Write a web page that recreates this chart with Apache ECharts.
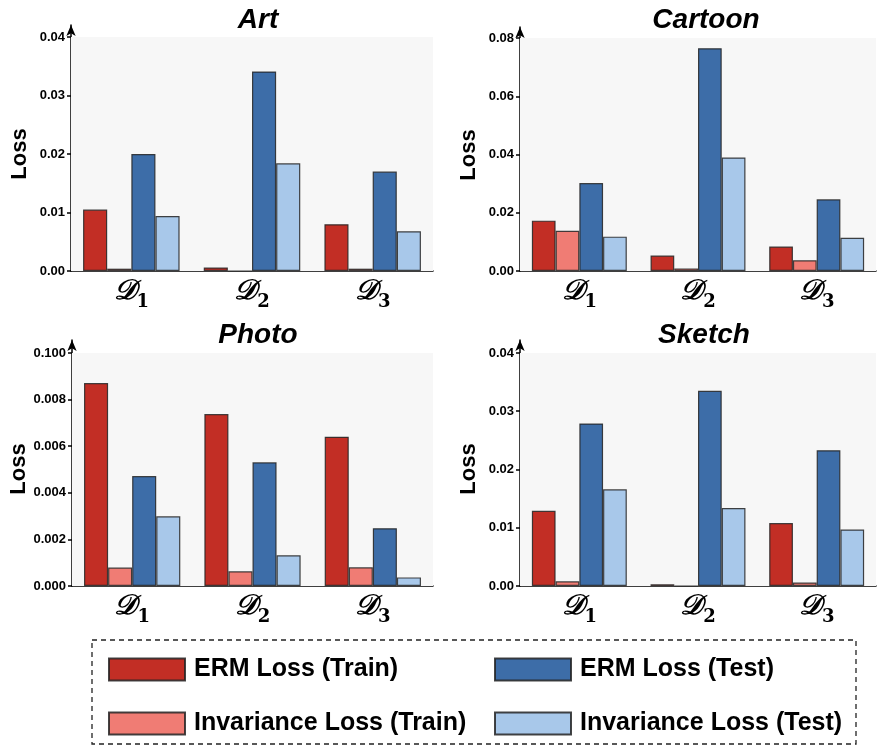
<!DOCTYPE html>
<html>
<head>
<meta charset="utf-8">
<title>Loss by domain</title>
<script src="https://cdn.jsdelivr.net/npm/echarts@6/dist/echarts.min.js"></script>
<style>
  html, body { margin: 0; padding: 0; background: #fff; }
  #chart { width: 877px; height: 746px; }
</style>
</head>
<body>
<div id="chart"></div>
<script>
// x categories (subscripts of D)
const domains = ["1", "2", "3"];
const panelTitles = ["Art", "Cartoon", "Photo", "Sketch"];
const seriesNames = ["ERM Loss (Train)", "Invariance Loss (Train)", "ERM Loss (Test)", "Invariance Loss (Test)"];

// Art
const artErmTrain = [0.0105, 0.0006, 0.0080];
const artInvTrain = [0.0004, 0, 0.0004];
const artErmTest = [0.0200, 0.0341, 0.0170];
const artInvTest = [0.0094, 0.0184, 0.0068];
// Cartoon
const cartoonErmTrain = [0.0173, 0.0053, 0.0084];
const cartoonInvTrain = [0.0138, 0.0009, 0.0037];
const cartoonErmTest = [0.0302, 0.0765, 0.0246];
const cartoonInvTest = [0.0118, 0.0390, 0.0114];
// Photo
const photoErmTrain = [0.00871, 0.00738, 0.00641];
const photoInvTrain = [0.00079, 0.00063, 0.00080];
const photoErmTest = [0.00472, 0.00531, 0.00248];
const photoInvTest = [0.00299, 0.00132, 0.00037];
// Sketch
const sketchErmTrain = [0.0129, 0.0003, 0.0108];
const sketchInvTrain = [0.0008, 0, 0.0006];
const sketchErmTest = [0.0279, 0.0335, 0.0233];
const sketchInvTest = [0.0166, 0.0134, 0.0097];

// tick values and labels (Photo's top label reads 0.100 in the original)
const artTicks = [0, 0.01, 0.02, 0.03, 0.04];
const artTickLabels = ["0.00", "0.01", "0.02", "0.03", "0.04"];
const cartoonTicks = [0, 0.02, 0.04, 0.06, 0.08];
const cartoonTickLabels = ["0.00", "0.02", "0.04", "0.06", "0.08"];
const photoTicks = [0, 0.002, 0.004, 0.006, 0.008, 0.010];
const photoTickLabels = ["0.000", "0.002", "0.004", "0.006", "0.008", "0.100"];
const sketchTicks = [0, 0.01, 0.02, 0.03, 0.04];
const sketchTickLabels = ["0.00", "0.01", "0.02", "0.03", "0.04"];

const colors = ["#c22e25", "#f07c74", "#3d6da8", "#a8c8ea"];
const FONT = "Liberation Sans";

const panels = [
  { data: [artErmTrain, artInvTrain, artErmTest, artInvTest], ticks: artTicks, labels: artTickLabels,
    grid: { left: 71, right: 444, top: 25, bottom: 475 }, max: 0.04205, titleX: 253, titleY: 1 },
  { data: [cartoonErmTrain, cartoonInvTrain, cartoonErmTest, cartoonInvTest], ticks: cartoonTicks, labels: cartoonTickLabels,
    grid: { left: 520, right: 1, top: 27, bottom: 475 }, max: 0.0838, titleX: 701, titleY: 1 },
  { data: [photoErmTrain, photoInvTrain, photoErmTest, photoInvTest], ticks: photoTicks, labels: photoTickLabels,
    grid: { left: 72, right: 444, top: 340, bottom: 160 }, max: 0.01056, titleX: 253, titleY: 316 },
  { data: [sketchErmTrain, sketchInvTrain, sketchErmTest, sketchInvTest], ticks: sketchTicks, labels: sketchTickLabels,
    grid: { left: 520, right: 1, top: 340, bottom: 160 }, max: 0.04223, titleX: 699, titleY: 316 },
];

const chart = echarts.init(document.getElementById("chart"));

const titles = [], grids = [], xAxes = [], yAxes = [], series = [];
panels.forEach((p, i) => {
  titles.push({
    text: panelTitles[i], left: p.titleX, top: p.titleY, textAlign: "center",
    textStyle: { fontFamily: FONT, fontSize: 28, fontWeight: "bold", fontStyle: "italic", color: "#000" },
  });
  grids.push(p.grid);
  xAxes.push({
    type: "category", gridIndex: i, data: domains,
    axisLine: { lineStyle: { color: "#000", width: 1.5 } },
    axisTick: { show: false },
    axisLabel: {
      margin: 7,
      formatter: (v) => "{d|𝒟}{s|" + v + "}",
      rich: {
        d: { fontFamily: "DejaVu Serif", fontSize: 28, fontWeight: "bold", fontStyle: "italic", color: "#000",
             verticalAlign: "bottom", padding: [0, 0, 5, 0] },
        s: { fontFamily: "DejaVu Serif", fontSize: 18, fontWeight: "bold", color: "#000",
             verticalAlign: "bottom", padding: [0, 0, 0, 1] },
      },
    },
  });
  yAxes.push({
    type: "value", gridIndex: i, min: 0, max: p.max,
    name: "Loss", nameLocation: "middle", nameGap: 40,
    nameTextStyle: { fontFamily: FONT, fontSize: 22, fontWeight: "bold", color: "#000", padding: [0, 12, 0, 0] },
    axisLine: { show: true, symbol: ["none", "arrow"], symbolSize: [7, 11], lineStyle: { color: "#000", width: 1.5 } },
    axisTick: { show: true, length: 4, customValues: p.ticks, lineStyle: { color: "#000", width: 1.5 } },
    splitLine: { show: false },
    axisLabel: {
      customValues: p.ticks, margin: 6,
      fontFamily: FONT, fontSize: 13, fontWeight: "bold", color: "#000",
      formatter: (v) => {
        const k = p.ticks.findIndex((t) => Math.abs(t - v) < 1e-9);
        return k >= 0 ? p.labels[k] : "";
      },
    },
  });
  // grey plot background up to the top tick
  series.push({
    type: "line", xAxisIndex: i, yAxisIndex: i, data: [], z: 1, silent: true,
    markArea: {
      silent: true,
      itemStyle: { color: "#f7f7f7" },
      data: [[{ yAxis: 0 }, { yAxis: p.ticks[p.ticks.length - 1] }]],
    },
  });
  p.data.forEach((vals, j) => {
    series.push({
      name: seriesNames[j], type: "bar", xAxisIndex: i, yAxisIndex: i, data: vals, z: 3,
      barGap: "0%", barCategoryGap: "20%",
      itemStyle: { color: colors[j], borderColor: "rgba(35,35,35,0.85)", borderWidth: 1.2 },
    });
  });
});

const legendText = { fontFamily: FONT, fontSize: 25, fontWeight: "bold", color: "#000", padding: [0, 0, 0, 4] };

chart.setOption({
  animation: false,
  backgroundColor: "#fff",
  title: titles,
  grid: grids,
  xAxis: xAxes,
  yAxis: yAxes,
  series: series,
  legend: [
    { data: [seriesNames[0], seriesNames[1]], orient: "vertical", left: 108, top: 657, padding: 0,
      itemWidth: 76, itemHeight: 22, itemGap: 29, icon: "rect", textStyle: legendText, selectedMode: false },
    { data: [seriesNames[2], seriesNames[3]], orient: "vertical", left: 494, top: 657, padding: 0,
      itemWidth: 76, itemHeight: 22, itemGap: 29, icon: "rect", textStyle: legendText, selectedMode: false },
  ],
  graphic: [
    { type: "rect", shape: { x: 92, y: 640, width: 764, height: 104 },
      style: { fill: "none", stroke: "#222", lineWidth: 1.3, lineDash: [5, 4] }, silent: true },
  ],
});
</script>
</body>
</html>
